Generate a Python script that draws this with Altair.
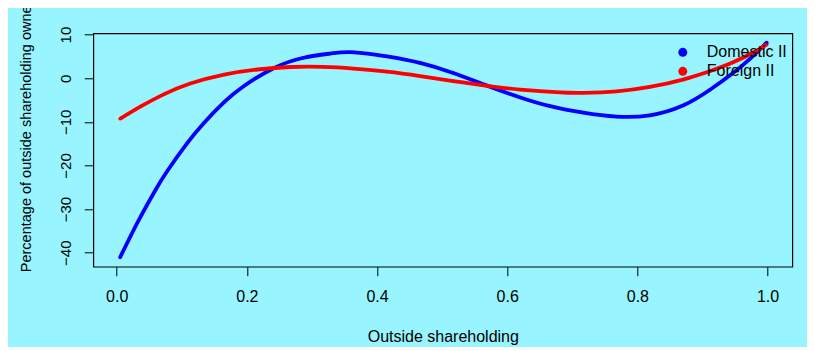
import altair as alt
import pandas as pd

# Domestic II (blue) curve
dom_x = [0.005, 0.0215, 0.039, 0.06, 0.078, 0.108, 0.134, 0.165, 0.195, 0.241,
         0.287, 0.328, 0.364, 0.415, 0.466, 0.517, 0.569, 0.62, 0.666, 0.717,
         0.768, 0.819, 0.870, 0.911, 0.947, 0.972, 0.999]
dom_y = [-41.1, -36.1, -31.1, -25.5, -21.2, -14.95, -10.25, -5.5, -1.85, 2.3,
         4.7, 5.65, 5.95, 5.0, 3.5, 1.2, -1.7, -4.4, -6.4, -7.9,
         -8.8, -8.5, -6.25, -2.7, 1.2, 4.3, 8.2]

# Foreign II (red) curve
for_x = [0.005, 0.037, 0.073, 0.113, 0.165, 0.216, 0.267, 0.318, 0.364, 0.415,
         0.466, 0.517, 0.569, 0.62, 0.681, 0.717, 0.768, 0.819, 0.870, 0.911,
         0.947, 0.983, 0.999]
for_y = [-9.3, -6.45, -3.64, -1.2, 0.84, 2.0, 2.57, 2.6, 2.2, 1.5,
         0.5, -0.65, -1.75, -2.6, -3.25, -3.35, -3.0, -2.0, -0.3, 1.6,
         3.65, 6.3, 7.8]

series = ["Domestic II", "Foreign II"]
colors = ["#0000FF", "#FF0000"]
x_ticks = [0.0, 0.2, 0.4, 0.6, 0.8, 1.0]
y_ticks = [-40, -30, -20, -10, 0, 10]

df = pd.concat([
    pd.DataFrame({"x": dom_x, "y": dom_y, "s": series[0], "o": range(len(dom_x))}),
    pd.DataFrame({"x": for_x, "y": for_y, "s": series[1], "o": range(len(for_x))}),
])

FONT = "Liberation Sans"
PW, PH = 699, 233.4

xenc = alt.X("x:Q", scale=alt.Scale(domain=[-0.036, 1.038], nice=False, zero=False),
             axis=alt.Axis(values=x_ticks, format=".1f", tickSize=9, labelPadding=26,
                           labelBaseline="alphabetic", domain=False, grid=False,
                           tickColor="#000", labelColor="#000", labelFont=FONT,
                           labelFontSize=16, title="Outside shareholding",
                           titleFont=FONT, titleFontSize=16, titleFontWeight="normal",
                           titleColor="#000", titleX=PW / 2, titleY=75,
                           titleBaseline="alphabetic", titleAlign="center"))
yenc = alt.Y("y:Q", scale=alt.Scale(domain=[-43.2, 10.3], nice=False, zero=False),
             axis=alt.Axis(values=y_ticks, tickSize=9, labelPadding=13.6, labelAngle=270,
                           labelAlign="center", labelBaseline="alphabetic",
                           domain=False, grid=False, tickColor="#000", labelColor="#000",
                           labelFont=FONT, labelFontSize=15,
                           title="Percentage of outside shareholding owned",
                           titleFont=FONT, titleFontSize=14.5, titleFontWeight="normal",
                           titleColor="#000", titleAngle=270, titleAlign="left",
                           titleBaseline="alphabetic", titleX=-63.3, titleY=238.4))
cscale = alt.Scale(domain=series, range=colors)

pts = alt.Chart(df).mark_circle(size=11, opacity=1).encode(
    x=xenc, y=yenc,
    color=alt.Color("s:N", scale=cscale,
                    legend=alt.Legend(title=None, orient="none", legendX=581.5, legendY=11,
                                      symbolType="circle", symbolSize=80, symbolStrokeWidth=0,
                                      labelFont=FONT, labelFontSize=16, labelColor="#000",
                                      labelOffset=16, rowPadding=3, padding=0)),
)
lines = alt.Chart(df).mark_line(strokeWidth=3.8, interpolate="natural").encode(
    x=xenc, y=yenc, order="o:Q",
    color=alt.Color("s:N", scale=cscale, legend=None),
)

chart = alt.layer(pts, lines).resolve_legend(color="independent").properties(
    width=PW, height=PH,
    background="#98F5FF",
    padding={"left": 85.3, "top": 25.3, "right": 14.7, "bottom": 80.3},
    autosize=alt.AutoSizeParams(type="none"),
).configure_view(stroke="#000", strokeWidth=1.2, fill=None)

chart.save("out.html", embed_options={"renderer": "svg", "actions": False})
